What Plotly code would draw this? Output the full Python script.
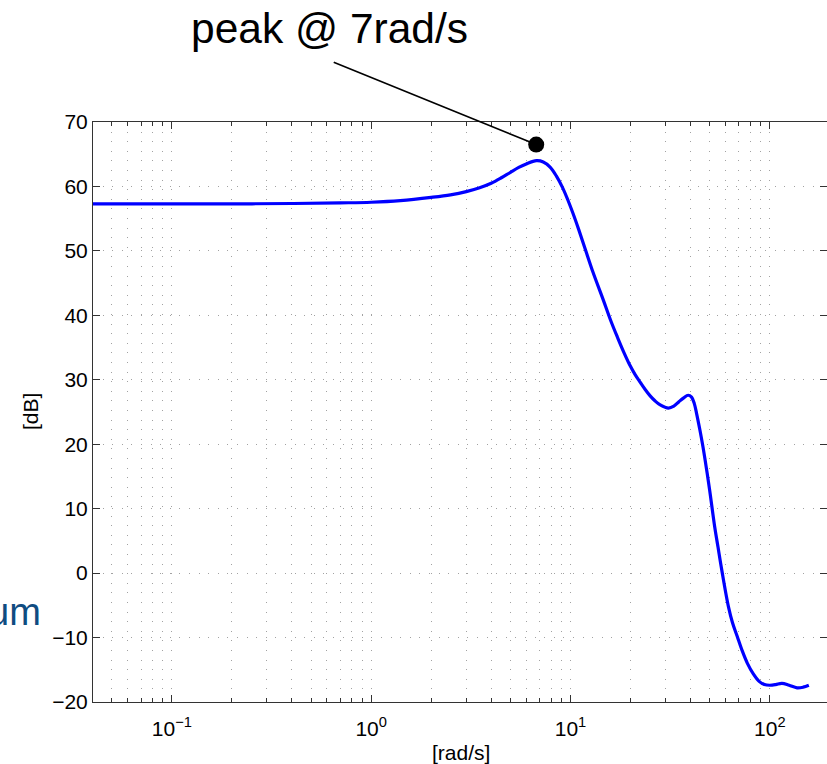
import plotly.graph_objects as go
import math

# ---- data ----
freq_rad_s = [0.04, 0.1, 0.2, 0.4, 0.7, 1.0, 1.4, 2.0, 2.5, 3.0, 3.5, 4.0, 4.5, 5.0, 5.5,
              6.0, 6.75, 7.3, 7.9, 8.5, 9.1, 9.7, 10.3, 11.0, 11.85, 13.0, 14.6, 16.0, 17.2,
              18.5, 19.9, 21.1, 22.4, 23.7, 25.1, 26.6, 28.2, 31.0, 33.0, 35.0, 37.0, 38.9,
              40.5, 41.8, 42.9, 44.6, 46.2, 48.0, 49.9, 52.9, 55.0, 57.4, 62.0, 65.0, 68.6,
              72.6, 77.2, 82.5, 88.4, 94.0, 100.0, 107.0, 115.0, 125.0, 137.0, 147.0, 157.0]
mag_db = [57.3, 57.3, 57.3, 57.35, 57.45, 57.55, 57.8, 58.3, 58.7, 59.2, 59.8, 60.5, 61.35,
          62.2, 62.95, 63.5, 64.0, 63.8, 63.0, 61.6, 59.9, 57.9, 55.8, 53.3, 50.3, 46.6, 42.4,
          39.0, 36.6, 34.3, 32.2, 30.8, 29.6, 28.5, 27.5, 26.7, 26.1, 25.6, 25.9, 26.6,
          27.2, 27.6, 27.3, 26.3, 24.8, 22.2, 19.6, 16.4, 12.9, 7.2, 4.0, 0.5, -5.2, -7.7,
          -9.8, -12.0, -14.0, -15.6, -16.8, -17.3, -17.4, -17.3, -17.1, -17.4, -17.8,
          -17.7, -17.4]

peak_w = [6.73]
peak_db = [66.5]
peak_label = "peak @ 7rad/s"

x_tickvals = [0.1, 1, 10, 100]
x_ticktext = ["10<sup>\u22121</sup>", "10<sup>0</sup>", "10<sup>1</sup>", "10<sup>2</sup>"]
y_tickvals = [-20, -10, 0, 10, 20, 30, 40, 50, 60, 70]

minor_vals = [m * 10 ** e for e in range(-2, 3) for m in range(2, 10)]

FONT = "Liberation Sans, Arial, Helvetica, sans-serif"
GRID = "#a2a2a2"
DOT = "1px,8.6px"

fig = go.Figure()
fig.add_trace(go.Scatter(x=freq_rad_s, y=mag_db, mode="lines",
                         line=dict(color="#0000ff", width=3.2, shape="spline", smoothing=1.0),
                         showlegend=False, hoverinfo="skip"))
fig.add_trace(go.Scatter(x=peak_w, y=peak_db, mode="markers",
                         marker=dict(color="black", size=16),
                         showlegend=False, cliponaxis=False, hoverinfo="skip"))

fig.update_layout(
    width=827, height=764,
    margin=dict(l=93, r=0, t=122, b=62),
    paper_bgcolor="white", plot_bgcolor="white",
    font=dict(family=FONT, size=21, color="black"),
)

fig.update_xaxes(
    type="log", range=[math.log10(0.0402), 2.287],
    tickmode="array", tickvals=x_tickvals, ticktext=x_ticktext,
    ticks="inside", ticklen=7, tickcolor="#333", tickwidth=1,
    showline=True, linecolor="#333", linewidth=1, mirror="ticks",
    showgrid=True, gridcolor=GRID, griddash=DOT, gridwidth=1,
    zeroline=False, ticklabelstandoff=8,
    tickfont=dict(family=FONT, size=21, color="black"),
    minor=dict(tickmode="array", tickvals=minor_vals, ticks="inside", ticklen=4,
               tickcolor="#333", showgrid=True, gridcolor=GRID, griddash=DOT, gridwidth=1),
)
fig.update_yaxes(
    range=[-20, 70], tickmode="array", tickvals=y_tickvals,
    ticks="inside", ticklen=7, tickcolor="#333", tickwidth=1,
    showline=True, linecolor="#333", linewidth=1, mirror="ticks",
    showgrid=True, gridcolor=GRID, griddash=DOT, gridwidth=1,
    zeroline=False,
    tickfont=dict(family=FONT, size=21, color="black"),
)

plot_w = 827 - 93
plot_h = 764 - 122 - 62

def px_to_paper(px, py):
    return (px - 93) / plot_w, (764 - 62 - py) / plot_h

# connector line to the peak marker
fig.add_annotation(x=math.log10(peak_w[0]), y=peak_db[0], xref="x", yref="y",
                   ax=-204, ay=-83, text="", showarrow=True, arrowhead=0,
                   arrowwidth=1.6, arrowcolor="black", standoff=0)

tx, ty = px_to_paper(329, 28)
fig.add_annotation(x=tx, y=ty, xref="paper", yref="paper", text=peak_label,
                   showarrow=False, xanchor="center", yanchor="middle",
                   font=dict(family=FONT, size=42.5, color="black"))

# axis titles
lx, ly = px_to_paper(461, 752)
fig.add_annotation(x=lx, y=ly, xref="paper", yref="paper", text="[rad/s]",
                   showarrow=False, xanchor="center", yanchor="middle",
                   font=dict(family=FONT, size=21, color="black"))
yx, yy = px_to_paper(30, 412)
fig.add_annotation(x=yx, y=yy, xref="paper", yref="paper", text="[dB]", textangle=-90,
                   showarrow=False, xanchor="center", yanchor="middle",
                   font=dict(family=FONT, size=21, color="black"))

# partial slide text at the left edge
ux, uy = px_to_paper(43, 612)
fig.add_annotation(x=ux, y=uy, xref="paper", yref="paper", text="um",
                   showarrow=False, xanchor="right", yanchor="middle",
                   font=dict(family=FONT, size=38, color="#0f4c81"))

fig.write_html("out.html")
